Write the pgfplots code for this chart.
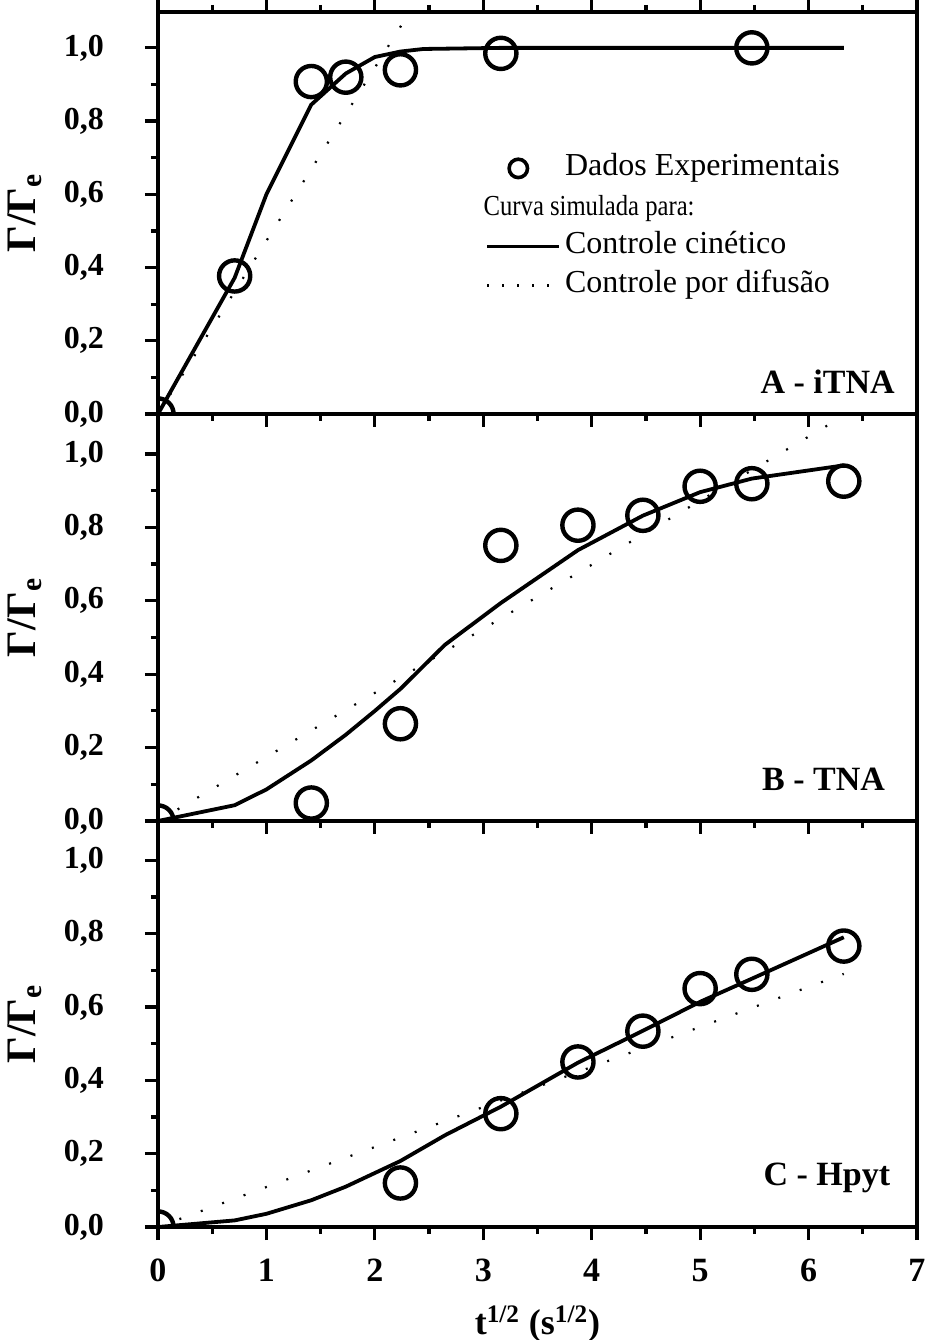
\documentclass[border=0pt]{standalone}
\usepackage{fontspec}
\setmainfont{Liberation Serif}
\usepackage{graphicx}
\usepackage{pgfplots}
\pgfplotsset{compat=1.18}

\pgfplotsset{
  panel/.style={
    width=379.5pt, scale only axis,
    xmin=0, xmax=7, ymin=0,
    xtick={0,1,2,3,4,5,6,7},
    ytick={0,0.2,0.4,0.6,0.8,1.0},
    minor x tick num=1, minor y tick num=1,
    tick align=outside,
    ytick pos=left,
    major tick length=6.5pt, minor tick length=3.5pt,
    every tick/.style={black, line width=1.6pt},
    axis line style={line width=1.8pt},
    /pgf/number format/assume math mode=true,
    xticklabel style={font=\fontsize{17}{17}\selectfont\bfseries, yshift=-6pt},
    yticklabel style={font=\fontsize{16}{16}\selectfont\bfseries, xshift=-17pt,
      /pgf/number format/.cd, fixed, fixed zerofill, precision=1, use comma},
    ylabel={\textbf{Γ/Γ\textsubscript{e}}},
    ylabel style={font=\fontsize{21}{21}\selectfont, at={(axis description cs:-0.175,0.5)}, anchor=center},
    clip marker paths=true,
  },
  exp/.style={only marks, mark=o, mark size=7.8pt, mark options={line width=2.2pt, black}},
  kin/.style={black, line width=1.9pt, mark=none},
  dif/.style={black, line width=1.1pt, dash pattern=on 1pt off 10.4pt, mark=none},
}

\begin{document}
\begin{tikzpicture}
\path[use as bounding box] (-79pt,-56.5pt) rectangle (384.5pt,613.5pt);

% Panel A
\begin{axis}[panel, at={(0pt,406.5pt)}, anchor=south west, height=201pt, ymax=1.098,
  xtick pos=both, xticklabels=\empty,
  legend style={at={(rel axis cs:0.431,0.648)}, anchor=north west, draw=none, fill=none,
    inner sep=0pt, font=\fontsize{16}{16}\selectfont, row sep=5pt,
    cells={anchor=west}, nodes={text height=11pt, text depth=3.5pt, inner ysep=0pt, xshift=3pt}},
  legend cell align=left]
\addplot[exp, legend image code/.code={\draw[line width=1.8pt] (15.5pt,0pt) circle (4.6pt);}] coordinates {
  (0,0) (0.707,0.377) (1.414,0.908) (1.732,0.92) (2.236,0.94) (3.162,0.985) (5.477,1.0)};
\addlegendentry{Dados Experimentais}
\addlegendimage{legend image code/.code={\node[overlay, anchor=base west, inner sep=0pt, font=\fontsize{14.5}{14.5}\selectfont] at (-5pt,-4pt) {\scalebox{0.85}[1]{Curva simulada para:}};}}
\addlegendentry{}
\addplot[kin, legend image code/.code={\draw[line width=1.8pt] (0pt,0pt) -- (36pt,0pt);}] coordinates {
  (0,0) (0.707,0.372) (1,0.6) (1.414,0.845) (1.732,0.93) (2,0.975) (2.236,0.99) (2.449,0.997) (3.162,1.0) (6.325,1.0)};
\addlegendentry{Controle cinético}
\addplot[dif, legend image code/.code={\draw[line width=1.1pt, dash pattern=on 1pt off 6.5pt] (0pt,0pt) -- (36pt,0pt);}] coordinates {
  (0,0) (2.33,1.102)};
\addlegendentry{Controle por difusão}
\node[anchor=base east, font=\fontsize{17}{17}\selectfont\bfseries] at (rel axis cs:0.980,0.052) {A - iTNA};
\end{axis}

% Panel B
\begin{axis}[panel, at={(0pt,203pt)}, anchor=south west, height=203.5pt, ymax=1.109,
  xtick pos=bottom, xticklabels=\empty]
\addplot[exp] coordinates {
  (0,0) (1.414,0.049) (2.236,0.265) (3.162,0.751) (3.873,0.806) (4.472,0.833) (5,0.912) (5.477,0.919) (6.325,0.926)};
\addplot[kin] coordinates {
  (0,0) (0.707,0.043) (1,0.086) (1.414,0.165) (1.732,0.235) (2,0.30) (2.236,0.36) (2.646,0.48) (3.162,0.594) (3.873,0.738) (4.472,0.832) (5,0.896) (5.477,0.933) (6.325,0.969)};
\addplot[dif] coordinates {(0,0) (6.325,1.104)};
\node[anchor=base east, font=\fontsize{17}{17}\selectfont\bfseries] at (rel axis cs:0.967,0.076) {B - TNA};
\end{axis}

% Panel C
\begin{axis}[panel, at={(0pt,0pt)}, anchor=south west, height=203pt, ymax=1.107,
  xtick pos=bottom,
  xlabel={\textbf{t\textsuperscript{1/2} (s\textsuperscript{1/2})}},
  xlabel style={font=\fontsize{18}{18}\selectfont, yshift=-5pt}]
\addplot[exp] coordinates {
  (0,0) (2.236,0.12) (3.162,0.309) (3.873,0.45) (4.472,0.534) (5,0.65) (5.477,0.689) (6.325,0.766)};
\addplot[kin] coordinates {
  (0,0) (0.707,0.018) (1,0.036) (1.414,0.073) (1.732,0.11) (2.236,0.18) (2.646,0.25) (3.162,0.328) (3.873,0.448) (4.472,0.535) (5,0.614) (5.477,0.677) (6.325,0.79)};
\addplot[dif] coordinates {(0,0) (6.325,0.69)};
\node[anchor=base east, font=\fontsize{17}{17}\selectfont\bfseries] at (rel axis cs:0.974,0.103) {C - Hpyt};
\end{axis}
\end{tikzpicture}
\end{document}
